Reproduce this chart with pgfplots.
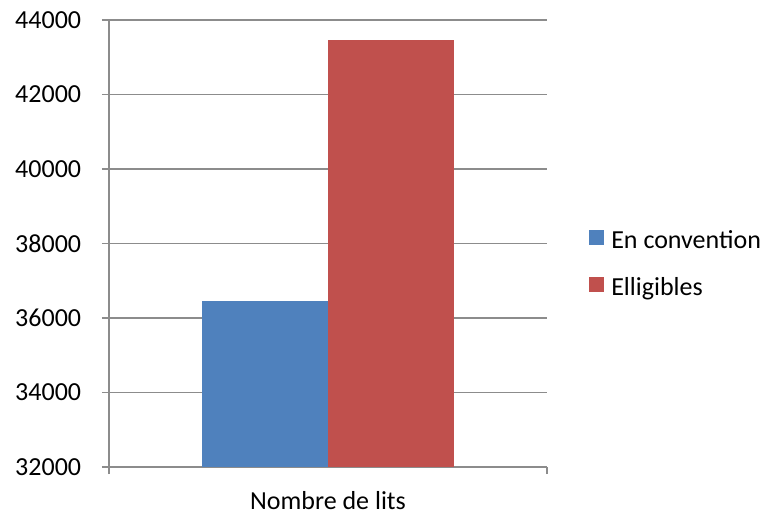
\documentclass[border=0pt]{standalone}
\usepackage{pgfplots}
\pgfplotsset{compat=1.18}
\usepackage{fontspec}
\setmainfont{Carlito}
\definecolor{cblue}{RGB}{79,129,189}
\definecolor{cred}{RGB}{192,80,77}
\definecolor{cgrid}{RGB}{140,140,140}
\begin{document}
\fontsize{26bp}{31bp}\selectfont
\begin{tikzpicture}
\path[use as bounding box] (-109bp,-46bp) rectangle (675bp,467bp);
\begin{axis}[
  at={(0,0)}, anchor=south west,
  scale only axis, width=438bp, height=447bp,
  ybar, bar width=0.2877,
  xmin=-0.5, xmax=0.5, ymin=32000, ymax=44000,
  ytick={32000,34000,36000,38000,40000,42000,44000},
  scaled y ticks=false,
  xtick={-0.5,0.5}, xticklabels={,},
  axis x line*=bottom, axis y line*=left,
  axis line style={cgrid, line width=1.1pt},
  ymajorgrids, grid style={cgrid, line width=1.1pt},
  tick style={cgrid, line width=1.1pt},
  tick align=outside, major tick length=7bp,
  /pgf/number format/fixed, /pgf/number format/1000 sep={}, /pgf/number format/assume math mode=true,
  yticklabel style={xshift=-12bp, font=\fontsize{26bp}{31bp}\selectfont},
  xlabel={Nombre de lits},
  xlabel style={font=\fontsize{26bp}{31bp}\selectfont, text depth=0pt, inner sep=1bp, at={(rel axis cs:0.5,0)}, anchor=base, yshift=-42bp},
  legend style={draw=none, fill=none, at={(rel axis cs:1.0893,0.452)}, anchor=west,
    font=\fontsize{26bp}{31bp}\selectfont, row sep=21bp},
  legend cell align=left,
  legend image code/.code={\fill[#1] (0bp,-4bp) rectangle (15bp,11bp); \path (20bp,0bp);},
]
\addplot[fill=cblue, draw=none, bar shift=-0.1438] coordinates {(0,36455)};
\addplot[fill=cred, draw=none, bar shift=0.1438] coordinates {(0,43460)};
\legend{En convention, Elligibles}
\end{axis}
\end{tikzpicture}
\end{document}
